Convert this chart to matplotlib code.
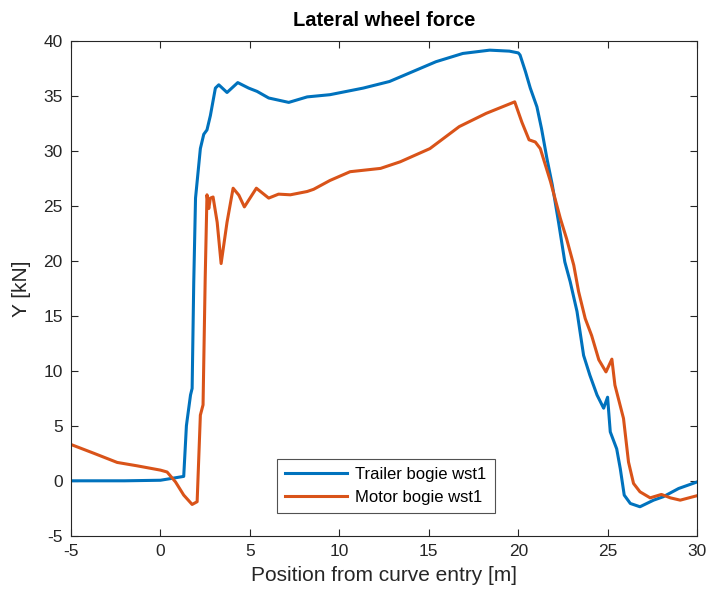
import matplotlib
matplotlib.use("Agg")
import matplotlib.pyplot as plt

plt.rcParams['font.family'] = ['Liberation Sans', 'DejaVu Sans']
plt.rcParams['axes.unicode_minus'] = False

trailer_x = [-5, -2, 0, 0.56, 1.3, 1.45, 1.49, 1.68, 1.77, 1.86, 1.96, 2.23, 2.42, 2.6, 2.79,
             3.07, 3.26, 3.72, 4.32, 4.93, 5.4, 6.05, 7.17, 8.2, 9.47, 11.33, 12.8, 14.1,
             15.4, 16.9, 18.4, 19.5, 20.0, 20.1, 20.4, 20.67, 21.04, 21.3, 21.6, 21.9,
             22.25, 22.6, 22.9, 23.28, 23.65, 24.0, 24.4, 24.77, 24.99, 25.14, 25.5, 25.7,
             25.92, 26.26, 26.8, 27.56, 28.1, 28.96, 30.0]
trailer_y = [0.0, 0.0, 0.05, 0.2, 0.4, 5.0, 5.5, 7.8, 8.4, 18.0, 25.7, 30.2, 31.5, 31.9, 33.2,
             35.7, 36.0, 35.3, 36.2, 35.7, 35.4, 34.8, 34.4, 34.9, 35.1, 35.7, 36.3, 37.2,
             38.1, 38.85, 39.15, 39.06, 38.9, 38.7, 37.2, 35.7, 34.0, 32.0, 29.3, 26.9,
             23.5, 19.9, 18.1, 15.4, 11.4, 9.6, 7.8, 6.6, 7.6, 4.45, 2.9, 1.1,
             -1.3, -2.06, -2.36, -1.76, -1.45, -0.7, -0.1]

motor_x = [-5, -3.72, -2.42, -1.3, 0.0, 0.37, 0.84, 1.3, 1.77, 2.05, 2.23, 2.38, 2.5, 2.6,
           2.7, 2.79, 2.94, 3.17, 3.39, 3.72, 4.06, 4.38, 4.69, 5.36, 6.05, 6.6, 7.26,
           8.2, 8.56, 9.47, 10.6, 12.3, 13.4, 15.06, 16.7, 18.2, 19.8, 20.2, 20.6, 20.95,
           21.23, 21.8, 22.35, 22.7, 23.1, 23.37, 23.74, 24.1, 24.5, 24.9, 25.23, 25.4,
           25.88, 26.16, 26.44, 26.8, 27.37, 28.0, 28.5, 29.05, 30.0]
motor_y = [3.3, 2.5, 1.67, 1.36, 0.97, 0.8, -0.1, -1.3, -2.15, -1.9, 5.97, 6.9, 18.4, 26.0,
           24.75, 25.7, 25.8, 23.5, 19.75, 23.5, 26.6, 25.97, 24.9, 26.6, 25.7, 26.06, 26.0,
           26.3, 26.5, 27.3, 28.1, 28.4, 29.0, 30.2, 32.2, 33.4, 34.45, 32.6, 31.0, 30.8,
           30.2, 27.2, 23.85, 22.0, 19.6, 17.2, 14.75, 13.2, 11.0, 9.9, 11.06, 8.7,
           5.67, 1.7, -0.24, -1.0, -1.55, -1.24, -1.55, -1.76, -1.35]

fig = plt.figure(figsize=(7.1, 6.0), dpi=100)
ax = fig.add_axes([0.1, 0.107, 0.882, 0.825])

ax.plot(trailer_x, trailer_y, color='#0072BD', lw=2.2, label='Trailer bogie wst1')
ax.plot(motor_x, motor_y, color='#D95319', lw=2.2, label='Motor bogie wst1')

ax.set_xlim(-5, 30)
ax.set_ylim(-5, 40)
ax.set_xticks(range(-5, 31, 5))
ax.set_yticks(range(-5, 41, 5))

axcol = '#262626'
for s in ax.spines.values():
    s.set_color(axcol)
    s.set_linewidth(0.8)
ax.tick_params(direction='in', top=True, right=True, length=5, width=0.8,
               colors=axcol, labelsize=12.5, pad=6)
ax.set_xlabel('Position from curve entry [m]', fontsize=15, color=axcol, labelpad=5)
ax.set_ylabel('Y [kN]', fontsize=15, color=axcol, labelpad=9)
ax.set_title('Lateral wheel force', fontsize=14.5, fontweight='bold', color='black', pad=11)

leg = ax.legend(loc='lower center', bbox_to_anchor=(0.503, 0.046), fontsize=12,
                frameon=True, fancybox=False, edgecolor=axcol, handlelength=3.7,
                handletextpad=0.5, borderpad=0.5, labelspacing=0.45, borderaxespad=0)
leg.get_frame().set_linewidth(0.8)

fig.savefig('out.png', dpi=100)
